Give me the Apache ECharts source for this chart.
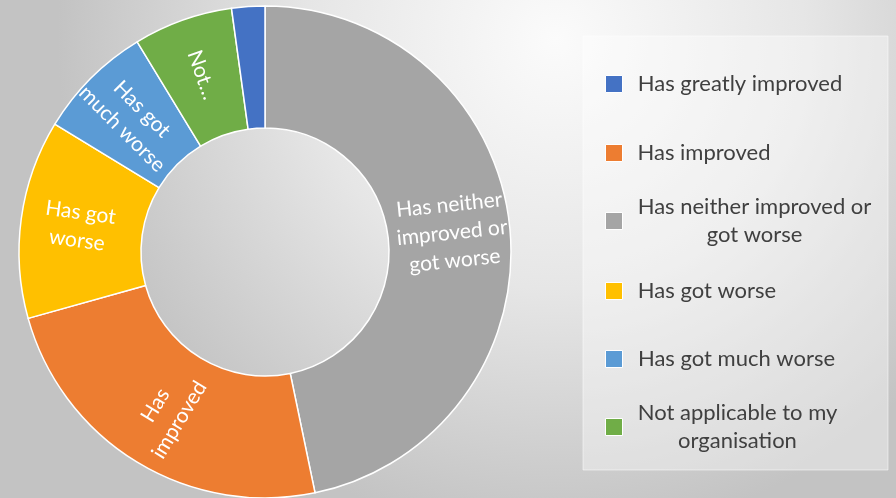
<!DOCTYPE html>
<html>
<head>
<meta charset="utf-8">
<title>Change in organisation</title>
<script src="https://cdn.jsdelivr.net/npm/echarts@6/dist/echarts.min.js"></script>
<style>
  html, body { margin: 0; padding: 0; }
  #chart { width: 896px; height: 498px; }
</style>
</head>
<body>
<div id="chart"></div>
<script>
// Response categories (legend order) and their counts
const categories = [
  'Has greatly improved',
  'Has improved',
  'Has neither improved or got worse',
  'Has got worse',
  'Has got much worse',
  'Not applicable to my organisation'
];
const counts = [2, 22, 43, 12, 7, 6];
const colors = ['#4472C4', '#ED7D31', '#A5A5A5', '#FFC000', '#5B9BD5', '#70AD47'];

// Text written inside each ring segment
const sliceLabels = ['', 'Has\nimproved', 'Has neither\nimproved or\ngot worse', 'Has got\nworse', 'Has got\nmuch worse', 'Not\u2026'];

// Legend entries as they wrap
const legendLines = [
  ['Has greatly improved'],
  ['Has improved'],
  ['Has neither improved or', 'got worse'],
  ['Has got worse'],
  ['Has got much worse'],
  ['Not applicable to my', 'organisation']
];

// Segments go clockwise from 12 o'clock in this order
const sliceOrder = [2, 1, 3, 4, 5, 0];

const FONT = 'Lato, "Open Sans", sans-serif';
const LEGEND_SIZE = 22;
const LEGEND_LH = 28;
const legendCenters = [87, 156, 224, 294, 362, 430];

const ctx = document.createElement('canvas').getContext('2d');
ctx.font = LEGEND_SIZE + 'px ' + FONT;
const measure = s => Math.ceil(ctx.measureText(s).width);

const chart = echarts.init(document.getElementById('chart'), null, { renderer: 'canvas' });

const pieData = sliceOrder.map(i => ({
  name: categories[i],
  value: counts[i],
  itemStyle: { color: colors[i] },
  label: { formatter: sliceLabels[i] }
}));

const legends = categories.map((name, i) => {
  const lines = legendLines[i];
  const w = Math.max(...lines.map(measure));
  const h = lines.length * LEGEND_LH;
  return {
    data: [name],
    orient: 'vertical',
    left: 605,
    top: legendCenters[i] - h / 2,
    padding: 0,
    icon: 'rect',
    itemWidth: 17,
    itemHeight: 17,
    selectedMode: false,
    itemStyle: { borderColor: '#ffffff', borderWidth: 1 },
    formatter: () => lines.map(l => '{c|' + l + '}').join('\n'),
    textStyle: {
      padding: [0, 0, 0, 10],
      rich: {
        c: {
          width: w,
          align: 'center',
          fontFamily: FONT,
          fontSize: LEGEND_SIZE,
          lineHeight: LEGEND_LH,
          color: '#404040'
        }
      }
    }
  };
});

chart.setOption({
  backgroundColor: {
    type: 'radial', x: 0.62, y: 0.08, r: 1.0,
    colorStops: [
      { offset: 0, color: '#fbfbfb' },
      { offset: 0.5, color: '#e6e6e6' },
      { offset: 1, color: '#c3c3c3' }
    ]
  },
  animation: false,
  graphic: [{
    type: 'rect',
    z: -1,
    shape: { x: 583, y: 36, width: 305, height: 434 },
    style: { fill: 'rgba(255,255,255,0.38)', stroke: 'rgba(255,255,255,0.5)', lineWidth: 1 }
  }],
  legend: legends,
  series: [{
    type: 'pie',
    center: [265, 252],
    radius: [124, 246],
    startAngle: 90,
    clockwise: true,
    avoidLabelOverlap: false,
    silent: true,
    itemStyle: { borderColor: '#ffffff', borderWidth: 1.5 },
    label: {
      show: true,
      position: 'inside',
      rotate: 'radial',
      color: '#ffffff',
      fontFamily: FONT,
      fontSize: 21,
      lineHeight: 28,
      align: 'center'
    },
    labelLine: { show: false },
    emphasis: { disabled: true },
    data: pieData
  }]
});
</script>
</body>
</html>
